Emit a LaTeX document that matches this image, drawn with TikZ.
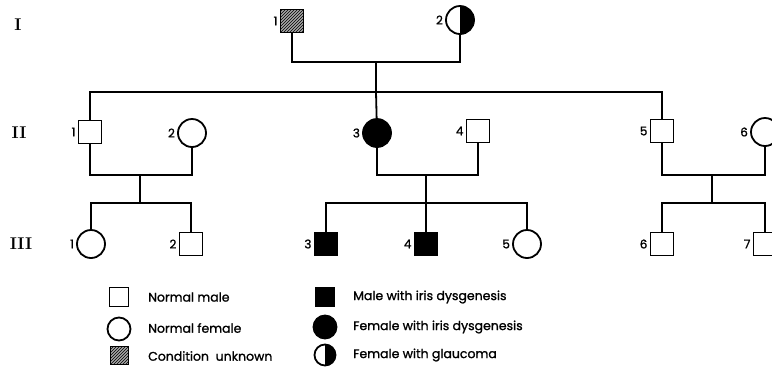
\documentclass[tikz,border=0pt]{standalone}
\usepackage{fontspec}
\newfontfamily\pedfont{Poppins}[FakeBold=1.2]
\usetikzlibrary{patterns}

\tikzset{
  person/.style={draw, line width=1.8pt, inner sep=0pt},
  male/.style={person, rectangle, minimum size=23pt},
  female/.style={person, circle, minimum size=28pt},
  affected/.style={fill=black},
  unknown/.style={fill=gray!70, postaction={pattern=north east lines}},
  glaucoma/.style={path picture={\fill[black] (path picture bounding box.north) rectangle (path picture bounding box.south east);}},
  num/.style={font=\pedfont\fontsize{12}{12}\selectfont, inner sep=0pt},
  gen/.style={font=\bfseries\fontsize{17}{17}\selectfont},
  link/.style={line width=1.8pt},
  keytext/.style={anchor=west, inner sep=0pt, font=\pedfont\fontsize{12.5}{12.5}\selectfont},
  label distance=2pt
}

\begin{document}
\begin{tikzpicture}[x=1pt, y=-1pt]
    \useasboundingbox (0,0) rectangle (772,373);
    \clip (0,0) rectangle (772,373);

    % Generation numbers
    \node[gen] (g1) at (18,25) {I};
    \node[gen] (g2) at (19,133) {II};
    \node[gen] (g3) at (21,244) {III};

    % Generation I
    \node[male, unknown, label={[num]left:1}] (i1) at (292,21) {};
    \node[female, glaucoma, label={[num]left:2}] (i2) at (460,20) {};
    \coordinate (m1) at (376,62);
    \coordinate (s1) at (376,92);

    % Generation II
    \node[male, label={[num]left:1}] (ii1) at (90,132) {};
    \node[female, label={[num]left:2}] (ii2) at (192,133) {};
    \node[female, affected, label={[num]left:3}] (ii3) at (377,133) {};
    \node[male, label={[num]left:4}] (ii4) at (478,131) {};
    \node[male, label={[num]left:5}] (ii5) at (662,131) {};
    \node[female, label={[num]left:6}] (ii6) at (765,132) {};
    \coordinate (m21) at (140,175);
    \coordinate (s21) at (140,203);
    \coordinate (m23) at (426,175);
    \coordinate (s23) at (426,203);
    \coordinate (m25) at (712,175);
    \coordinate (s25) at (712,203);

    % Generation III
    \node[female, label={[num]left:1}] (iii1) at (91,244) {};
    \node[male, label={[num]left:2}] (iii2) at (191,244) {};
    \node[male, affected, label={[num]left:3}] (iii3) at (326,244) {};
    \node[male, affected, label={[num]left:4}] (iii4) at (426,244) {};
    \node[female, label={[num]left:5}] (iii5) at (527,244) {};
    \node[male, label={[num]left:6}] (iii6) at (662,244) {};
    \node[male, label={[num]left:7}] (iii7) at (765,244) {};

    % Lines of descent
    \draw[link] (i1) |- (m1) -| (i2);
    \draw[link] (m1) -- (s1);
    \draw[link] (ii1) |- (s1) -| (ii5);
    \draw[link] (s1) -- (ii3);

    \draw[link] (ii1) |- (m21) -| (ii2);
    \draw[link] (m21) -- (s21);
    \draw[link] (iii1) |- (s21) -| (iii2);

    \draw[link] (ii3) |- (m23) -| (ii4);
    \draw[link] (m23) -- (s23);
    \draw[link] (iii3) |- (s23) -| (iii5);
    \draw[link] (s23) -- (iii4);

    \draw[link] (ii5) |- (m25) -| (ii6);
    \draw[link] (m25) -- (s25);
    \draw[link] (iii6) |- (s25) -| (iii7);

    % Key
    \node[male, minimum size=19pt] (k1) at (119,297) {};
    \node[female, minimum size=23pt] (k2) at (119,329) {};
    \node[male, unknown, minimum size=18pt, line width=1pt] (k3) at (119,355) {};
    \node[male, affected, minimum size=19pt] (k4) at (325,297) {};
    \node[female, affected, minimum size=23pt] (k5) at (325,327) {};
    \node[female, glaucoma, minimum size=21pt] (k6) at (325,355) {};

    \node[keytext] (t1) at (148,297) {Normal male};
    \node[keytext] (t2) at (148,328) {Normal female};
    \node[keytext] (t3) at (148,356) {Condition\ \ unknown};
    \node[keytext] (t4) at (353,297) {Male with iris dysgenesis};
    \node[keytext] (t5) at (353,327) {Female with iris dysgenesis};
    \node[keytext] (t6) at (353,355) {Female with glaucoma};
\end{tikzpicture}
\end{document}
